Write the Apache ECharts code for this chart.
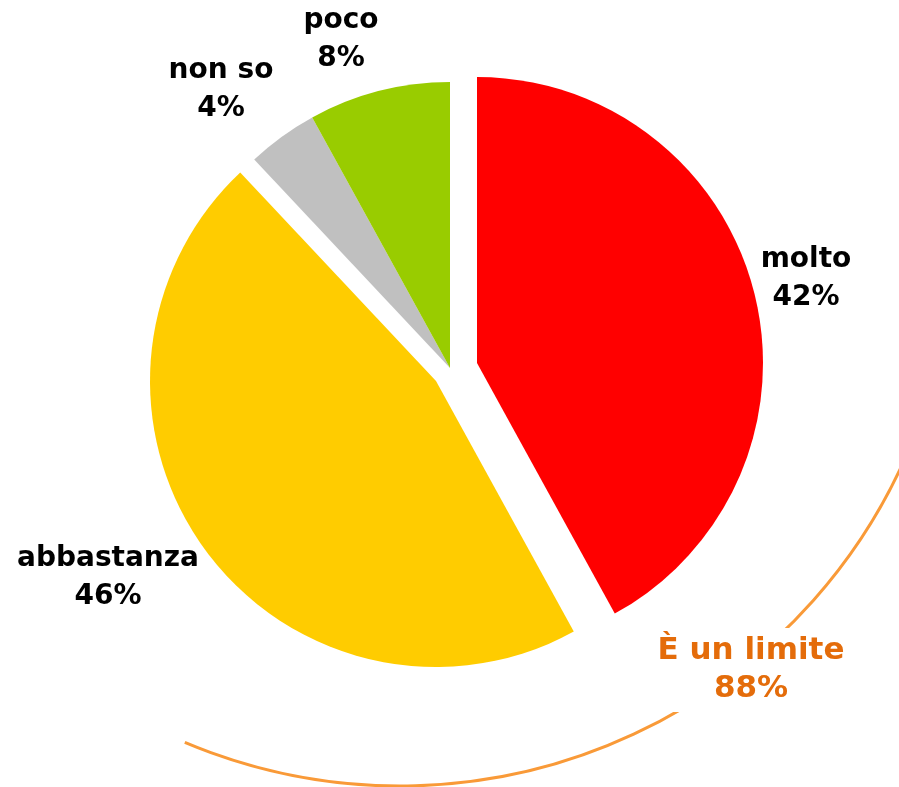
<!DOCTYPE html>
<html>
<head>
<meta charset="utf-8">
<script src="https://cdn.jsdelivr.net/npm/echarts@6/dist/echarts.min.js"></script>
<style>
  html, body { margin: 0; padding: 0; background: #fff; }
  #chart { width: 899px; height: 787px; }
</style>
</head>
<body>
<div id="chart"></div>
<script>
// dati
var categories = ['molto', 'abbastanza', 'non so', 'poco'];
var values = [42, 46, 4, 8];
var groupName = 'È un limite';
var groupMembers = ['molto', 'abbastanza'];

// stile
var sliceColors = ['#FF0000', '#FFCC00', '#C0C0C0', '#99CC00'];
var labelPos = {
    'molto': [806, 279],
    'abbastanza': [108, 578],
    'non so': [221, 90],
    'poco': [341, 40]
};
// fette staccate: ogni gruppo ha il suo centro
var layers = [
    { center: [450, 368], items: ['non so', 'poco'] },
    { center: [477, 363], items: ['molto'] },
    { center: [436, 381], items: ['abbastanza'] }
];

window.onload = start_pie;
function start_pie() {
    var myChart = echarts.init(document.getElementById('chart'));

    var groupTotal = 0;
    for (var i = 0; i < categories.length; i++) {
        if (groupMembers.indexOf(categories[i]) >= 0) groupTotal += values[i];
    }

    var series = layers.map(function (layer) {
        return {
            type: 'pie',
            center: layer.center,
            radius: 286,
            startAngle: 90,
            clockwise: true,
            silent: true,
            animation: false,
            percentPrecision: 0,
            avoidLabelOverlap: false,
            labelLine: { show: false },
            itemStyle: { borderWidth: 0 },
            label: {
                position: 'outside',
                formatter: '{b}\n{d}%',
                color: '#000',
                fontFamily: 'DejaVu Sans',
                fontWeight: 'bold',
                fontSize: 28,
                lineHeight: 38,
                overflow: 'none'
            },
            labelLayout: function (params) {
                var p = labelPos[categories[params.dataIndex]];
                return { x: p[0], y: p[1], align: 'center', verticalAlign: 'middle' };
            },
            data: categories.map(function (c, i) {
                var on = layer.items.indexOf(c) >= 0;
                return {
                    name: c,
                    value: values[i],
                    itemStyle: { color: on ? sliceColors[i] : 'rgba(0,0,0,0)' },
                    label: { show: on }
                };
            })
        };
    });

    var option = {
        backgroundColor: '#fff',
        graphic: [{
            type: 'arc',
            z: 1,
            silent: true,
            shape: {
                cx: 400, cy: 233, r: 553,
                startAngle: 20 * Math.PI / 180,
                endAngle: 112.9 * Math.PI / 180,
                clockwise: true
            },
            style: { stroke: '#F99A38', lineWidth: 3, fill: null }
        }, {
            type: 'text',
            z: 5,
            silent: true,
            x: 751,
            y: 670,
            style: {
                text: groupName + '\n' + groupTotal + '%',
                align: 'center',
                verticalAlign: 'middle',
                font: 'bold 31px "DejaVu Sans"',
                lineHeight: 38,
                fill: '#E46C0A',
                backgroundColor: '#fff',
                padding: [4, 8]
            }
        }],
        series: series
    };

    myChart.setOption(option);
}
</script>
</body>
</html>
